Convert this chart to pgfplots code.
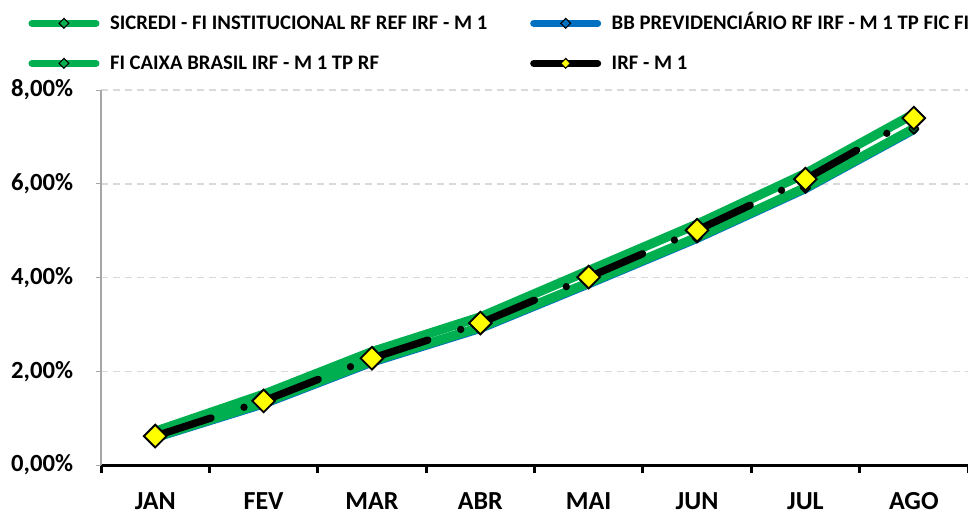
\documentclass[border=0pt]{standalone}
\usepackage{pgfplots}
\pgfplotsset{compat=1.18}
\usepackage{fontspec}
\setmainfont{Carlito}
\definecolor{xgreen}{HTML}{00B050}
\definecolor{xblue}{HTML}{0070C0}
\definecolor{xyellow}{HTML}{FFFF00}
\definecolor{xgrid}{HTML}{D9D9D9}
\definecolor{xaxisgray}{HTML}{A6A6A6}
\begin{document}
\begin{tikzpicture}
\begin{axis}[
  name=ax,
  scale only axis, width=650pt, height=281.25pt,
  xmin=-0.5, xmax=7.5, ymin=0, ymax=8,
  axis x line*=bottom, axis y line*=left,
  clip=false,
  xtick={0,...,7},
  xticklabels={JAN,FEV,MAR,ABR,MAI,JUN,JUL,AGO},
  minor xtick={-0.5,0.5,...,7.5},
  major x tick style={draw=none},
  minor x tick style={black, line width=2.25pt},
  minor tick length=6pt,
  major tick length=3.75pt,
  tick align=outside,
  ytick={0,2,4,6,8},
  yticklabels={{0,00\%},{2,00\%},{4,00\%},{6,00\%},{8,00\%}},
  y tick style={xaxisgray, line width=0.75pt},
  ymajorgrids,
  grid style={xgrid, line width=1.1pt, dash pattern=on 5pt off 4pt},
  x axis line style={black, line width=2.25pt, -},
  y axis line style={xaxisgray, line width=1pt, -},
  xticklabel style={font=\fontsize{19.5}{22}\selectfont\bfseries, inner sep=0pt, anchor=north, yshift=-16.5pt, text depth=0pt},
  yticklabel style={font=\fontsize{18.5}{20}\selectfont\bfseries, inner sep=0pt, anchor=east, xshift=-17pt},
  /pgf/number format/assume math mode=true,
  legend columns=2,
  legend image code/.code={\draw[#1, mark repeat=2, mark phase=2] plot coordinates {(0pt,0pt) (24pt,0pt) (48pt,0pt)};},
  legend style={at={(rel axis cs:0,0)}, anchor=north west, xshift=-54.4pt, yshift=338.75pt,
    draw=none, fill=none, inner sep=0pt, outer sep=0pt, row sep=15pt,
    font=\fontsize{15.5}{18}\selectfont\bfseries,
    nodes={inner sep=0pt, text height=12pt, text depth=3pt}},
  /tikz/every odd column/.append style={column sep=7.9pt},
]
\addlegendimage{xgreen, line width=5.25pt, line cap=round, mark=square*, mark size=2.6pt, mark options={rotate=45, fill=xgreen, draw=black, line width=0.8pt, solid}}
\addlegendentry{\makebox[315pt][l]{SICREDI - FI INSTITUCIONAL RF REF IRF - M 1}}
\addlegendimage{xblue, line width=5.25pt, line cap=round, mark=square*, mark size=2.6pt, mark options={rotate=45, fill=xblue, draw=black, line width=0.8pt, solid}}
\addlegendentry{\makebox[280pt][l]{BB PREVIDENCIÁRIO RF IRF - M 1 TP FIC FI}}
\addlegendimage{xgreen, line width=5.25pt, line cap=round, mark=square*, mark size=2.6pt, mark options={rotate=45, fill=xgreen, draw=black, line width=0.8pt, solid}}
\addlegendentry{\makebox[315pt][l]{FI CAIXA BRASIL IRF - M 1 TP RF}}
\addlegendimage{black, line width=5.25pt, line cap=round, mark=square*, mark size=2.6pt, mark options={rotate=45, fill=xyellow, draw=black, line width=0.8pt, solid}}
\addlegendentry{\makebox[280pt][l]{IRF - M 1}}

% BB PREVIDENCIARIO
\addplot[forget plot, xblue, line width=7pt, line cap=round, line join=round,
  mark=square*, mark size=2.6pt, mark options={rotate=45, fill=xblue, draw=black, line width=0.8pt}]
  coordinates {(0,0.59) (1,1.31) (2,2.20) (3,2.92) (4,3.87) (5,4.84) (6,5.90) (7,7.16)};
% FI CAIXA
\addplot[forget plot, xgreen, line width=7pt, line cap=round, line join=round,
  mark=square*, mark size=2.6pt, mark options={rotate=45, fill=xgreen!60!black, draw=black, line width=0.8pt}]
  coordinates {(0,0.60) (1,1.33) (2,2.22) (3,2.94) (4,3.89) (5,4.86) (6,5.92) (7,7.18)};
% SICREDI
\addplot[forget plot, xgreen, line width=7pt, line cap=round, line join=round,
  mark=square*, mark size=2.6pt, mark options={rotate=45, fill=xgreen!60!black, draw=black, line width=0.8pt}]
  coordinates {(0,0.72) (1,1.51) (2,2.42) (3,3.16) (4,4.15) (5,5.14) (6,6.22) (7,7.49)};
% IRF - M 1 line (pattern restarts at each month)
\addplot[forget plot, black, line width=5.5pt, line cap=round, unbounded coords=jump,
  dash pattern=on 44pt off 26pt on 0pt off 40pt]
  coordinates {(0,0.62) (1,1.37) (1,nan) (1,1.37) (2,2.28) (2,nan) (2,2.28) (3,3.03) (3,nan)
    (3,3.03) (4,4.01) (4,nan) (4,4.01) (5,5.01) (5,nan) (5,5.01) (6,6.10) (6,nan) (6,6.10) (7,7.40)};
% IRF - M 1 markers
\addplot[forget plot, only marks, mark=square*, mark size=6pt,
  mark options={rotate=45, fill=xyellow, draw=black, line width=1.4pt}]
  coordinates {(0,0.62) (1,1.37) (2,2.28) (3,3.03) (4,4.01) (5,5.01) (6,6.10) (7,7.40)};
\end{axis}
\pgfresetboundingbox
\path[use as bounding box] ([shift={(-75.75pt,-36pt)}]ax.south west) rectangle ([shift={(0pt,67.5pt)}]ax.north east);
\end{tikzpicture}
\end{document}
